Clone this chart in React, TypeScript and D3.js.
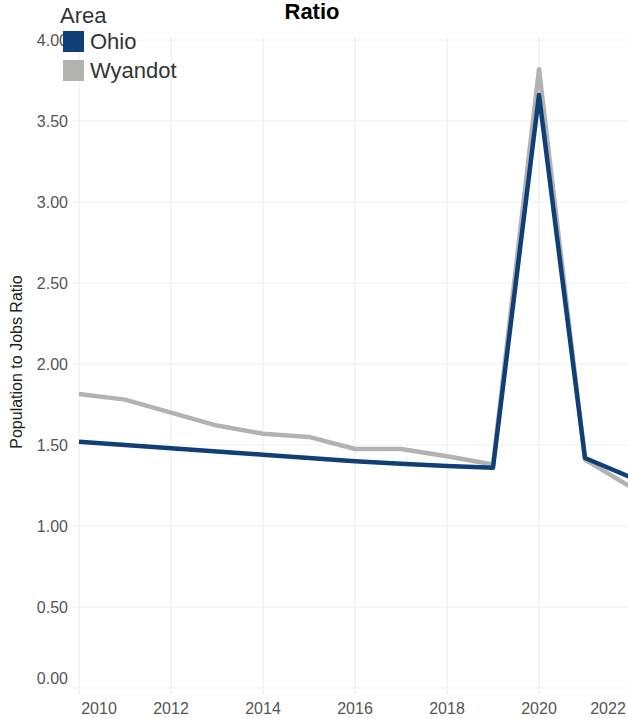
import React, { useEffect, useRef } from 'react';
import * as d3 from 'd3';

const years = [2010, 2011, 2012, 2013, 2014, 2015, 2016, 2017, 2018, 2019, 2020, 2021, 2022];
const ohio = [1.52, 1.5, 1.48, 1.46, 1.44, 1.42, 1.4, 1.385, 1.37, 1.36, 3.66, 1.42, 1.3];
const wyandot = [1.815, 1.78, 1.7, 1.62, 1.57, 1.55, 1.475, 1.475, 1.43, 1.38, 3.82, 1.41, 1.24];
const xTicks = [2010, 2012, 2014, 2016, 2018, 2020, 2022];
const yTicks = [0, 0.5, 1, 1.5, 2, 2.5, 3, 3.5, 4];
const series = [
  { name: 'Wyandot', values: wyandot, color: '#b2b3b1' },
  { name: 'Ohio', values: ohio, color: '#0f3f77' },
];
const legendOrder = ['Ohio', 'Wyandot'];

const App: React.FC = () => {
  const ref = useRef<SVGSVGElement | null>(null);

  useEffect(() => {
    if (!ref.current) return;
    const svg = d3.select(ref.current);
    svg.selectAll('*').remove();
    const width = 628;
    const height = 719;
    const font = 'Liberation Sans, Arial, sans-serif';

    const x = d3.scaleLinear().domain([2010, 2022]).range([79, 631]);
    const y = d3.scaleLinear().domain([0, 4]).range([688, 40]);

    // grid
    svg.append('g')
      .selectAll('line')
      .data(xTicks)
      .enter().append('line')
      .attr('x1', d => x(d)).attr('x2', d => x(d))
      .attr('y1', 37).attr('y2', 694)
      .attr('stroke', '#efefef').attr('stroke-width', 1.2);

    svg.append('g')
      .selectAll('line')
      .data(yTicks)
      .enter().append('line')
      .attr('x1', 72).attr('x2', width)
      .attr('y1', d => y(d)).attr('y2', d => y(d))
      .attr('stroke', '#efefef').attr('stroke-width', 1.2);

    // y tick labels (the zero label sits a little higher, clear of the x labels)
    svg.append('g')
      .selectAll('text')
      .data(yTicks)
      .enter().append('text')
      .attr('x', 68)
      .attr('y', d => y(d) + 6 - (d === 0 ? 10 : 0))
      .attr('text-anchor', 'end')
      .attr('font-family', font)
      .attr('font-size', 16)
      .attr('fill', '#555')
      .text(d => d3.format('.2f')(d));

    // x tick labels, kept inside the plot
    svg.append('g')
      .selectAll('text')
      .data(xTicks)
      .enter().append('text')
      .attr('x', d => Math.max(79 + 20, Math.min(width - 20, x(d))))
      .attr('y', 714)
      .attr('text-anchor', 'middle')
      .attr('font-family', font)
      .attr('font-size', 16)
      .attr('fill', '#555')
      .text(d => d);

    // y title
    svg.append('text')
      .attr('transform', 'translate(22,362) rotate(-90)')
      .attr('text-anchor', 'middle')
      .attr('font-family', font)
      .attr('font-size', 16)
      .attr('fill', '#222')
      .text('Population to Jobs Ratio');

    const line = d3.line<number>()
      .x((_, i) => x(years[i]))
      .y(d => y(d));

    svg.append('g')
      .selectAll('path')
      .data(series)
      .enter().append('path')
      .attr('d', d => line(d.values))
      .attr('fill', 'none')
      .attr('stroke', d => d.color)
      .attr('stroke-width', 4.5)
      .attr('stroke-linejoin', 'round');

    // title
    svg.append('text')
      .attr('x', 312)
      .attr('y', 19)
      .attr('text-anchor', 'middle')
      .attr('font-family', font)
      .attr('font-size', 22)
      .attr('font-weight', 'bold')
      .attr('fill', '#000')
      .text('Ratio');

    // legend
    const legend = svg.append('g');
    legend.append('text')
      .attr('x', 60).attr('y', 23)
      .attr('font-family', font).attr('font-size', 22)
      .attr('fill', '#333')
      .text('Area');
    const items = legend.selectAll('g.item')
      .data(legendOrder)
      .enter().append('g')
      .attr('class', 'item')
      .attr('transform', (_, i) => `translate(63,${31 + i * 29})`);
    items.append('rect')
      .attr('width', 21).attr('height', 21)
      .attr('fill', d => series.find(s => s.name === d)!.color);
    items.append('text')
      .attr('x', 27).attr('y', 18)
      .attr('font-family', font).attr('font-size', 22)
      .attr('fill', '#333')
      .text(d => d);

    svg.attr('width', width).attr('height', height);
  }, []);

  return <svg ref={ref} width={628} height={719} style={{ position: 'absolute', left: 0, top: 0 }} />;
};

export default App;
